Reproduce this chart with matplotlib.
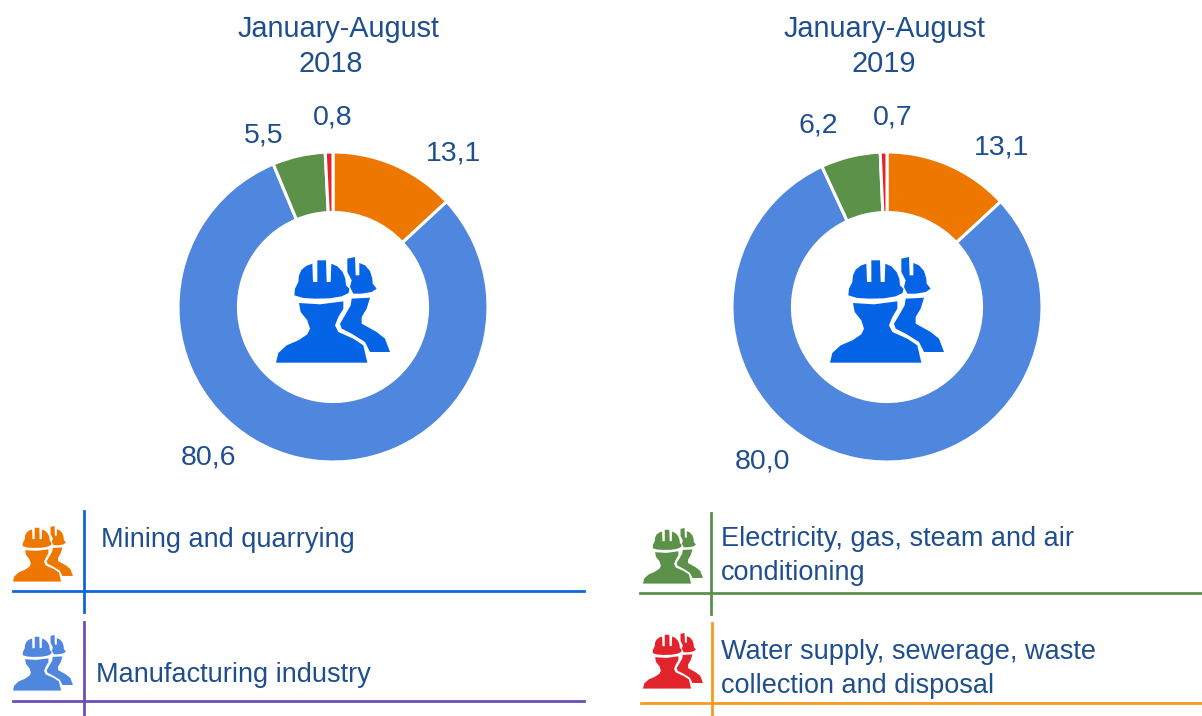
#!/usr/bin/env python3
"""Two donuts: employment share by industry, Jan-Aug 2018 and 2019."""
import matplotlib
matplotlib.use("Agg")
import matplotlib.pyplot as plt
from matplotlib.patches import Polygon

plt.rcParams['font.family'] = ['Liberation Sans', 'DejaVu Sans']

W, H = 1202, 716
TEXT = "#1f4e8f"

SECTORS = ["Mining and quarrying", "Manufacturing industry",
           "Electricity, gas, steam and air\nconditioning",
           "Water supply, sewerage, waste\ncollection and disposal"]
COLORS = ["#ee7700", "#4f86de", "#5b9148", "#e1242b"]
PERIOD = "January-August"
YEARS = ["2018", "2019"]
VALUES_2018 = [13.1, 80.6, 5.5, 0.8]
VALUES_2019 = [13.1, 80.0, 6.2, 0.7]

# icon outlines, traced in a crop of the big icon
HELMET_FRONT = [(193, 195), (195, 175), (205, 155), (207, 135), (215, 118), (230, 106), (247, 100),
                (249, 155), (262, 155), (262, 90), (288, 90), (290, 155), (302, 155), (304, 100),
                (322, 108), (338, 125), (346, 145), (348, 165), (358, 175), (356, 188), (335, 198),
                (300, 204), (255, 205), (220, 203)]
BODY_FRONT = [(207, 218), (270, 222), (340, 213), (340, 235), (325, 260), (315, 285), (325, 305),
              (370, 325), (400, 345), (412, 397), (138, 397), (145, 368), (170, 345), (205, 330),
              (232, 312), (240, 295), (232, 270), (212, 245)]
HELMET_BACK = [(352, 85), (375, 80), (377, 135), (388, 135), (388, 98), (405, 105), (420, 122),
               (427, 145), (428, 160), (440, 175), (425, 185), (395, 190), (370, 190), (360, 170),
               (365, 150), (352, 125)]
BODY_BACK = [(365, 205), (420, 202), (410, 235), (395, 260), (395, 280), (440, 305), (465, 325),
             (480, 365), (420, 365), (405, 335), (365, 310), (335, 295), (330, 280), (345, 255),
             (362, 225)]


def draw_icon(ax, left, top, scale, color):
    for shape in (HELMET_FRONT, BODY_FRONT, HELMET_BACK, BODY_BACK):
        pts = [(left + (x - 138) / 3 * scale, top + (y - 80) / 3 * scale) for x, y in shape]
        ax.add_patch(Polygon(pts, closed=True, fc=color, ec="none"))


def donut(cx, cy, r, values):
    ax = fig.add_axes([(cx - r) / W, 1 - (cy + r) / H, 2 * r / W, 2 * r / H])
    ax.pie(values, colors=COLORS, startangle=90, counterclock=False, radius=1,
           wedgeprops=dict(width=0.39, edgecolor="white", linewidth=2.2))
    ax.set_xlim(-1, 1)
    ax.set_ylim(-1, 1)
    ax.patch.set_alpha(0)


def fmt(v):
    return f"{v:.1f}".replace(".", ",")


fig = plt.figure(figsize=(W / 100, H / 100), dpi=100)
donut(333, 307, 155, VALUES_2018)
donut(887, 307, 155, VALUES_2019)

# overlay in pixel coordinates for everything that is not a wedge
ov = fig.add_axes([0, 0, 1, 1], zorder=5)
ov.set_xlim(0, W)
ov.set_ylim(H, 0)
ov.axis("off")

for x_top, x_year, year in zip([339, 885], [331, 884], YEARS):
    ov.text(x_top, 29, PERIOD, ha="center", va="center", fontsize=20.8, color=TEXT)
    ov.text(x_year, 64, year, ha="center", va="center", fontsize=20.8, color=TEXT)

for v, (x, y) in zip(VALUES_2018, [(453, 153), (208, 458), (264, 135), (333, 117)]):
    ov.text(x, y, fmt(v), ha="center", va="center", fontsize=20.5, color=TEXT)
for v, (x, y) in zip(VALUES_2019, [(1001, 147), (763, 461), (818, 126), (893, 118)]):
    ov.text(x, y, fmt(v), ha="center", va="center", fontsize=20.5, color=TEXT)

draw_icon(ov, 276, 257, 1.0, "#0563e6")
draw_icon(ov, 830, 257, 1.0, "#0563e6")

# legend blocks
ov.plot([13, 584], [591, 591], color="#1166dd", lw=2)
ov.plot([84, 84], [511, 612], color="#1166dd", lw=2)
ov.plot([13, 584], [701, 701], color="#6a4fb5", lw=2)
ov.plot([84, 84], [622, 716], color="#6a4fb5", lw=2)
ov.plot([640, 1202], [593, 593], color="#5e8f4e", lw=2)
ov.plot([711, 711], [513, 614], color="#5e8f4e", lw=2)
ov.plot([641, 1202], [703, 703], color="#f59a20", lw=2)
ov.plot([712, 712], [623, 716], color="#f59a20", lw=2)

draw_icon(ov, 13, 526, 0.526, COLORS[0])
draw_icon(ov, 13, 635, 0.526, COLORS[1])
draw_icon(ov, 643, 528, 0.526, COLORS[2])
draw_icon(ov, 643, 633, 0.526, COLORS[3])

ov.text(101, 540, SECTORS[0], va="center", fontsize=19.5, color=TEXT)
ov.text(96, 675, SECTORS[1], va="center", fontsize=19.5, color=TEXT)
ov.text(721, 556, SECTORS[2], va="center", fontsize=19.5, color=TEXT, linespacing=1.42)
ov.text(721, 669, SECTORS[3], va="center", fontsize=19.5, color=TEXT, linespacing=1.42)

fig.savefig("out.png", dpi=100, facecolor="white")
